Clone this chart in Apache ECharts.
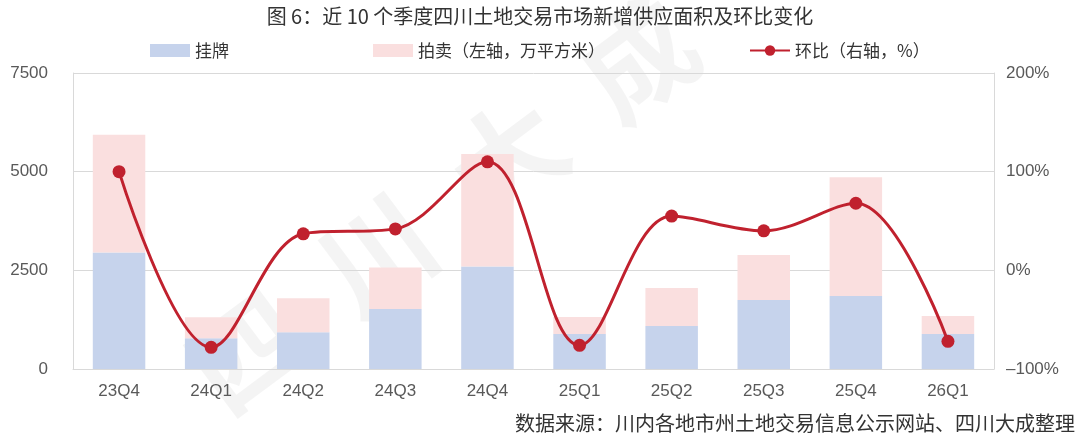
<!DOCTYPE html>
<html><head><meta charset="utf-8">
<script src="https://cdn.jsdelivr.net/npm/echarts@6/dist/echarts.min.js"></script>
<style>html,body{margin:0;padding:0;background:#fff}#c{width:1080px;height:440px}</style>
</head><body><div id="c"></div>
<script>
const categories = ['23Q4','24Q1','24Q2','24Q3','24Q4','25Q1','25Q2','25Q3','25Q4','26Q1'];
const listing = [2950, 778, 930, 1522, 2595, 888, 1090, 1750, 1851, 888];
const auction = [2984, 533, 863, 1047, 2850, 431, 964, 1141, 3010, 456];
const qoq = [100, -78, 37, 42, 110, -76, 55, 40, 68, -72];
const leftTicks = {min: 0, max: 7500, interval: 2500};
const rightTicks = {min: -100, max: 200, interval: 100};

const font = '"Noto Sans CJK SC", "Noto Sans", sans-serif';
const numFont = '"Liberation Sans", "Noto Sans CJK SC", sans-serif';
const chart = echarts.init(document.getElementById('c'));
chart.setOption({
  animation: false,
  textStyle: {fontFamily: font},
  title: {
    text: '图 6：近 10 个季度四川土地交易市场新增供应面积及环比变化',
    left: 'center', top: 1,
    textStyle: {fontSize: 20, fontWeight: 'normal', color: '#333', fontFamily: font}
  },
  legend: {
    top: 37, left: 145, itemGap: 144, itemWidth: 40, itemHeight: 13,
    textStyle: {fontSize: 17, color: '#333', fontFamily: font},
    data: [
      {name: '挂牌', icon: 'rect'},
      {name: '拍卖（左轴，万平方米）', icon: 'rect'},
      {name: '环比（右轴，%）'}
    ]
  },
  graphic: [{
    type: 'text', x: 235, y: 430, z: 0, rotation: 0.64,
    style: {text: '四  川  大  成', fontSize: 112, fontWeight: 'bold', fill: 'rgba(0,0,0,0.045)', fontFamily: font,
      textVerticalAlign: 'bottom'}
  }, {
    type: 'text', right: 5, top: 413, z: 10,
    style: {text: '数据来源：川内各地市州土地交易信息公示网站、四川大成整理', fontSize: 20, fill: '#333', fontFamily: font}
  }],
  grid: {left: 73, right: 86, top: 73, bottom: 71},
  xAxis: {
    type: 'category', data: categories,
    axisLine: {lineStyle: {color: '#d9d9d9'}},
    axisTick: {show: false},
    axisLabel: {fontSize: 17, color: '#595959', margin: 14, fontFamily: numFont}
  },
  yAxis: [{
    type: 'value', ...leftTicks,
    axisLine: {show: true, lineStyle: {color: '#d9d9d9'}},
    axisLabel: {fontSize: 17, color: '#595959', margin: 25, fontFamily: numFont, formatter: v => String(v)},
    splitLine: {lineStyle: {color: '#d9d9d9'}}
  }, {
    type: 'value', ...rightTicks,
    axisLine: {show: true, lineStyle: {color: '#d9d9d9'}},
    axisLabel: {fontSize: 17, color: '#595959', margin: 12, fontFamily: numFont,
      formatter: v => (v < 0 ? '–' + Math.abs(v) : v) + '%'},
    splitLine: {show: false}
  }],
  series: [{
    name: '挂牌', type: 'bar', stack: 'a', data: listing, barWidth: '57%',
    itemStyle: {color: '#c6d3ec'}
  }, {
    name: '拍卖（左轴，万平方米）', type: 'bar', stack: 'a', data: auction,
    itemStyle: {color: '#fadfdf'}
  }, {
    name: '环比（右轴，%）', type: 'line', yAxisIndex: 1, data: qoq, smooth: 0.35,
    symbol: 'circle', symbolSize: 13, z: 5,
    lineStyle: {color: '#c0212e', width: 3},
    itemStyle: {color: '#c0212e'}
  }]
});
</script></body></html>
